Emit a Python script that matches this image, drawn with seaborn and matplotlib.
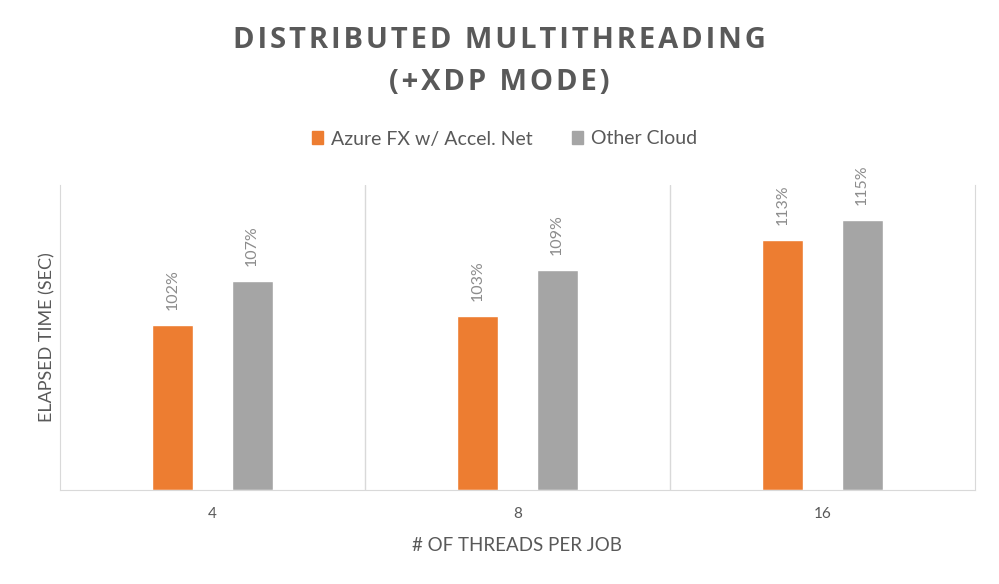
import numpy as np
import pandas as pd
import matplotlib
matplotlib.use("Agg")
import matplotlib.pyplot as plt
import seaborn as sns

# 値
threads = ["4", "8", "16"]
series = ["Azure FX w/ Accel. Net", "Other Cloud"]
azure_time = [165, 174, 250]
other_time = [209, 220, 270]
azure_labels = ["102%", "103%", "113%"]
other_labels = ["107%", "109%", "115%"]

df = pd.DataFrame({
    "threads": threads * 2,
    "series": [series[0]] * 3 + [series[1]] * 3,
    "time": azure_time + other_time,
})

sns.set_style("white")
plt.rcParams["font.family"] = ["Lato", "DejaVu Sans"]

fig = plt.figure(figsize=(9.99, 5.84), dpi=100)
ax = fig.add_axes([60 / 999, 94 / 584, 915 / 999, 305 / 584])

sns.barplot(
    data=df, x="threads", y="time", hue="series",
    palette=["#ED7D31", "#A5A5A5"], saturation=1, width=0.52, gap=0.48,
    ax=ax, legend=False,
)

# データラベル
for cont, labels in zip(ax.containers, [azure_labels, other_labels]):
    ax.bar_label(cont, labels=labels, rotation=90, padding=11,
                 color="#8C8C8C", fontsize=11.5)

ax.set_xlim(-0.5, 2.5)
ax.set_ylim(0, 305)
ax.set_yticks([])
ax.set_xticks(range(3))
ax.set_xticklabels(threads, fontsize=11, color="#595959")
ax.set_xticks([0.5, 1.5], minor=True)
ax.grid(which="minor", axis="x", color="#D9D9D9", linewidth=1)
ax.tick_params(axis="x", which="both", length=0, pad=12)

for s in ["left", "right", "bottom"]:
    ax.spines[s].set_color("#D9D9D9")
ax.spines["top"].set_visible(False)

ax.set_xlabel("# OF THREADS PER JOB", fontsize=13.5, color="#595959", labelpad=12)
ax.set_ylabel("ELAPSED TIME (SEC)", fontsize=13, color="#595959", labelpad=3)

# タイトル（字間を広げる）
hs = "\u200a"
title_font = dict(ha="center", va="center", fontsize=21, fontweight="bold",
                  color="#595959", family=["Open Sans", "DejaVu Sans"])
fig.text(0.5, 1 - 40 / 584, hs.join("DISTRIBUTED MULTITHREADING"), **title_font)
fig.text(0.5, 1 - 82 / 584, hs.join("(+XDP MODE)"), **title_font)

handles = [plt.Rectangle((0, 0), 1, 1, color=c) for c in ["#ED7D31", "#A5A5A5"]]
fig.legend(handles, series, loc="center", bbox_to_anchor=(0.505, 1 - 139 / 584),
           ncol=2, frameon=False, fontsize=14, handlelength=0.6, handleheight=0.6,
           handletextpad=0.4, columnspacing=2.0, labelcolor="#595959")

plt.savefig("out.png", dpi=100)
